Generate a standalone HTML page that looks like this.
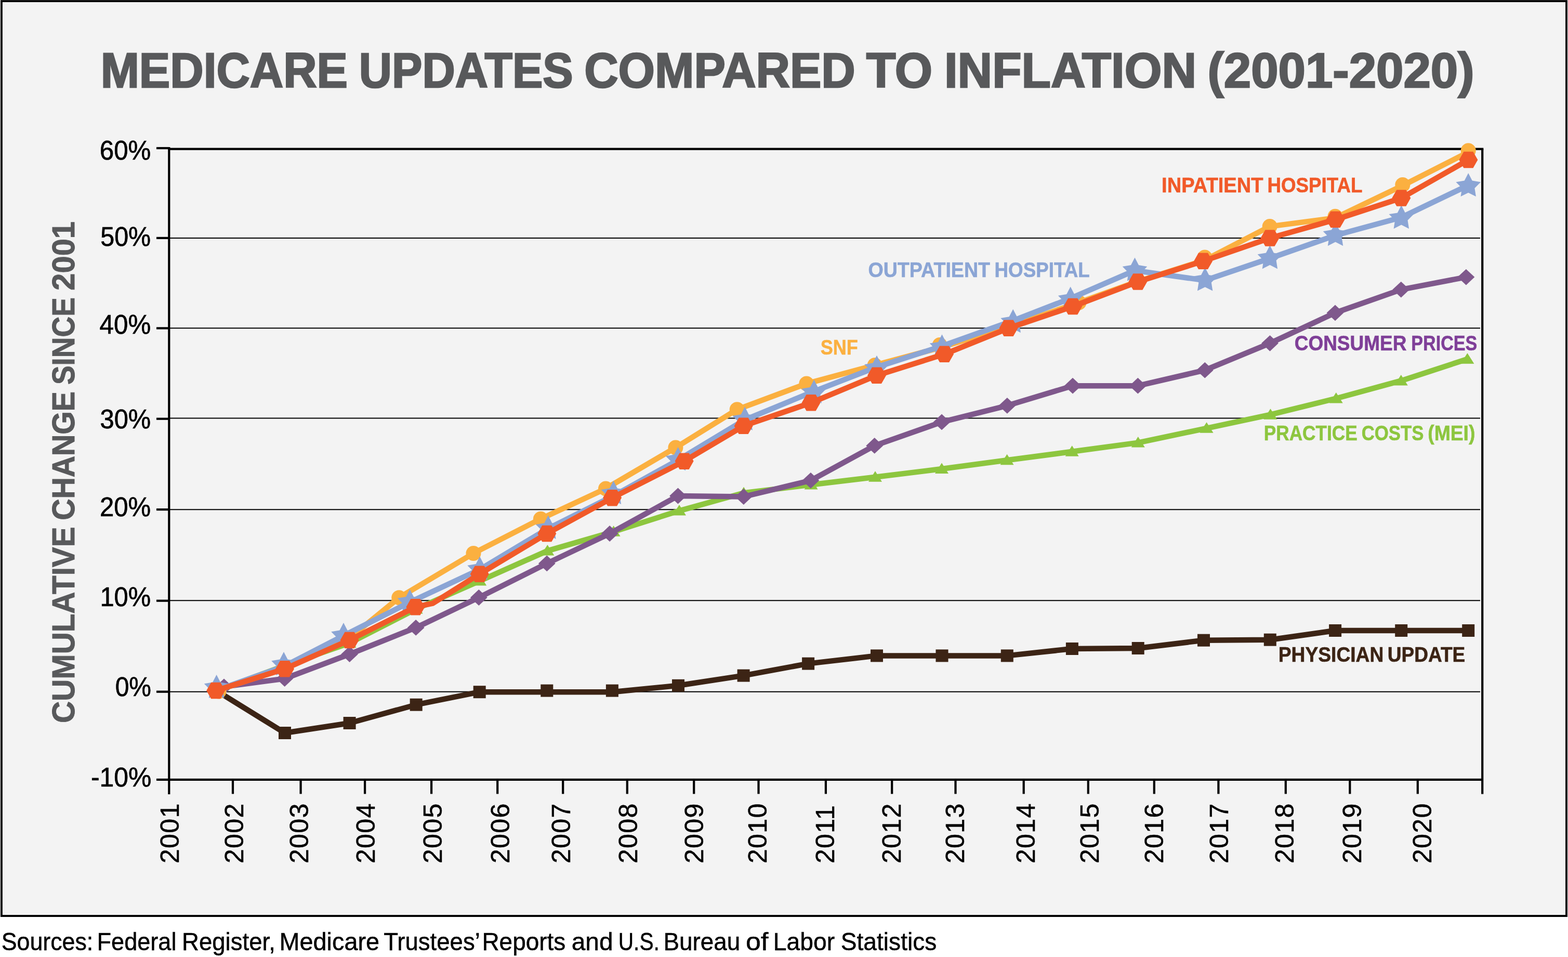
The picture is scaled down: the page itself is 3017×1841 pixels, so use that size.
<!DOCTYPE html>
<html lang="en"><head><meta charset="utf-8">
<title>Medicare Updates Compared to Inflation (2001-2020)</title>
<style>
html,body{margin:0;padding:0;background:#fff}
body{width:3017px;height:1841px;overflow:hidden}
svg{display:block}
text{font-family:"Liberation Sans",Arial,Helvetica,sans-serif}
</style></head><body>
<svg xmlns="http://www.w3.org/2000/svg" width="3017" height="1841" viewBox="0 0 3017 1841">
<rect x="0" y="0" width="3017" height="1841" fill="#fff"/>
<rect x="2.9" y="2.15" width="3011.1" height="1759.85" fill="#f3f3f3" stroke="#000" stroke-width="3.9"/>
<text y="167.5" font-size="94.2" fill="#58595b" font-weight="bold" stroke="#58595b" stroke-width="2.6" stroke-linejoin="miter"><tspan x="193.63" textLength="475.38" lengthAdjust="spacingAndGlyphs">MEDICARE</tspan> <tspan x="690.85" textLength="411.85" lengthAdjust="spacingAndGlyphs">UPDATES</tspan> <tspan x="1124.17" textLength="521.62" lengthAdjust="spacingAndGlyphs">COMPARED</tspan> <tspan x="1666.65" textLength="127.40" lengthAdjust="spacingAndGlyphs">TO</tspan> <tspan x="1816.92" textLength="485.19" lengthAdjust="spacingAndGlyphs">INFLATION</tspan> <tspan x="2323.49" textLength="513.14" lengthAdjust="spacingAndGlyphs">(2001-2020)</tspan></text>
<text y="-0.5" font-size="61.6" fill="#58595b" font-weight="bold" stroke="#58595b" stroke-width="1.0" stroke-linejoin="miter" transform="translate(143.6 1389) rotate(-90)"><tspan x="-1.90" textLength="377.39" lengthAdjust="spacingAndGlyphs">CUMULATIVE</tspan> <tspan x="388.15" textLength="247.81" lengthAdjust="spacingAndGlyphs">CHANGE</tspan> <tspan x="648.97" textLength="167.90" lengthAdjust="spacingAndGlyphs">SINCE</tspan> <tspan x="830.33" textLength="132.61" lengthAdjust="spacingAndGlyphs">2001</tspan></text>
<g stroke="#000" stroke-width="2" fill="none">
<line x1="325.3" y1="457.9" x2="2848" y2="457.9"/>
<line x1="325.3" y1="631.3" x2="2848" y2="631.3"/>
<line x1="325.3" y1="804.6" x2="2848" y2="804.6"/>
<line x1="325.3" y1="980.2" x2="2848" y2="980.2"/>
<line x1="325.3" y1="1155.3" x2="2848" y2="1155.3"/>
<line x1="325.3" y1="1330.7" x2="2848" y2="1330.7"/>
</g>
<g stroke="#000" stroke-width="4.2" fill="none">
<path d="M301 285H325.3"/>
<path d="M325.3 282.9V1528"/>
<path d="M325.3 286.6H2854.2999999999997"/>
<path d="M2852.2 286.6V1527.5"/>
<path d="M301 1499.9H2852.2"/>
<path d="M301 457.9H325.3"/>
<path d="M301 631.4H325.3"/>
<path d="M301 805.7H325.3"/>
<path d="M301 980.2H325.3"/>
<path d="M301 1155.7H325.3"/>
<path d="M301 1330.7H325.3"/>
<path d="M448 1499.9V1527.3"/>
<path d="M578.6 1499.9V1527.3"/>
<path d="M702.1 1499.9V1527.3"/>
<path d="M830.1 1499.9V1527.3"/>
<path d="M957.2 1499.9V1527.3"/>
<path d="M1083.2 1499.9V1527.3"/>
<path d="M1206.8 1499.9V1527.3"/>
<path d="M1335.2 1499.9V1527.3"/>
<path d="M1459.5 1499.9V1527.3"/>
<path d="M1588.9 1499.9V1527.3"/>
<path d="M1716.2 1499.9V1527.3"/>
<path d="M1838.5 1499.9V1527.3"/>
<path d="M1969.7 1499.9V1527.3"/>
<path d="M2093.8 1499.9V1527.3"/>
<path d="M2220.8 1499.9V1527.3"/>
<path d="M2344.4 1499.9V1527.3"/>
<path d="M2473.8 1499.9V1527.3"/>
<path d="M2597.3 1499.9V1527.3"/>
<path d="M2727.8 1499.9V1527.3"/>
</g>
<text y="307.2" font-size="51.3" fill="#000" stroke="#000" stroke-width="0.7" stroke-linejoin="miter"><tspan x="191.84" textLength="98.56" lengthAdjust="spacingAndGlyphs">60%</tspan></text>
<text y="473.2" font-size="51.3" fill="#000" stroke="#000" stroke-width="0.7" stroke-linejoin="miter"><tspan x="193.24" textLength="96.94" lengthAdjust="spacingAndGlyphs">50%</tspan></text>
<text y="642.2" font-size="51.3" fill="#000" stroke="#000" stroke-width="0.7" stroke-linejoin="miter"><tspan x="191.62" textLength="98.59" lengthAdjust="spacingAndGlyphs">40%</tspan></text>
<text y="824" font-size="51.3" fill="#000" stroke="#000" stroke-width="0.7" stroke-linejoin="miter"><tspan x="192.54" textLength="97.65" lengthAdjust="spacingAndGlyphs">30%</tspan></text>
<text y="993.2" font-size="51.3" fill="#000" stroke="#000" stroke-width="0.7" stroke-linejoin="miter"><tspan x="191.98" textLength="98.22" lengthAdjust="spacingAndGlyphs">20%</tspan></text>
<text y="1166.2" font-size="51.3" fill="#000" stroke="#000" stroke-width="0.7" stroke-linejoin="miter"><tspan x="192.42" textLength="97.76" lengthAdjust="spacingAndGlyphs">10%</tspan></text>
<text y="1338.9" font-size="51.3" fill="#000" stroke="#000" stroke-width="0.7" stroke-linejoin="miter"><tspan x="221.67" textLength="69.39" lengthAdjust="spacingAndGlyphs">0%</tspan></text>
<text y="1513.1" font-size="51.3" fill="#000" stroke="#000" stroke-width="0.7" stroke-linejoin="miter"><tspan x="174.93" textLength="116.53" lengthAdjust="spacingAndGlyphs">-10%</tspan></text>
<g font-size="50.1" letter-spacing="1.3" fill="#000" stroke="#000" stroke-width="0.5">
<text transform="translate(344.1 1661.1) rotate(-90)">2001</text>
<text transform="translate(467.8 1661.1) rotate(-90)">2002</text>
<text transform="translate(592.9 1661.1) rotate(-90)">2003</text>
<text transform="translate(720.5 1661.1) rotate(-90)">2004</text>
<text transform="translate(850.2 1661.1) rotate(-90)">2005</text>
<text transform="translate(979.8 1661.1) rotate(-90)">2006</text>
<text transform="translate(1096.8 1661.1) rotate(-90)">2007</text>
<text transform="translate(1225.9 1661.1) rotate(-90)">2008</text>
<text transform="translate(1353.3 1661.1) rotate(-90)">2009</text>
<text transform="translate(1474.8 1661.1) rotate(-90)">2010</text>
<text transform="translate(1604.9 1661.1) rotate(-90)">2011</text>
<text transform="translate(1732.5 1661.1) rotate(-90)">2012</text>
<text transform="translate(1854.6 1661.1) rotate(-90)">2013</text>
<text transform="translate(1991 1661.1) rotate(-90)">2014</text>
<text transform="translate(2113.8 1661.1) rotate(-90)">2015</text>
<text transform="translate(2238.4 1661.1) rotate(-90)">2016</text>
<text transform="translate(2362.5 1661.1) rotate(-90)">2017</text>
<text transform="translate(2489.3 1661.1) rotate(-90)">2018</text>
<text transform="translate(2619.3 1661.1) rotate(-90)">2019</text>
<text transform="translate(2753.8 1661.1) rotate(-90)">2020</text>
</g>
<g fill="#3c2415">
<polyline points="417,1329 548,1410 672.6,1391 800.7,1355.7 922.7,1331.2 1052.3,1331.2 1177.9,1331.2 1305,1318.8 1430.6,1299.6 1555.1,1276.6 1687,1261.4 1812.5,1261.4 1937.8,1261.4 2062.9,1248 2189.7,1247 2316,1231.7 2443.8,1230.7 2569.1,1213 2696.2,1213 2825.2,1213" fill="none" stroke="#3c2415" stroke-width="10.5" stroke-linejoin="round"/>
<rect x="405" y="1317" width="24" height="24"/>
<rect x="536" y="1398" width="24" height="24"/>
<rect x="660.6" y="1379" width="24" height="24"/>
<rect x="788.7" y="1343.7" width="24" height="24"/>
<rect x="910.7" y="1319.2" width="24" height="24"/>
<rect x="1040.3" y="1316.6" width="24" height="24"/>
<rect x="1165.9" y="1316.6" width="24" height="24"/>
<rect x="1293" y="1306.8" width="24" height="24"/>
<rect x="1418.6" y="1287.6" width="24" height="24"/>
<rect x="1543.1" y="1264.6" width="24" height="24"/>
<rect x="1675" y="1249.4" width="24" height="24"/>
<rect x="1800.5" y="1249.4" width="24" height="24"/>
<rect x="1925.8" y="1249.4" width="24" height="24"/>
<rect x="2050.9" y="1236" width="24" height="24"/>
<rect x="2177.7" y="1235" width="24" height="24"/>
<rect x="2304" y="1219.7" width="24" height="24"/>
<rect x="2431.8" y="1218.7" width="24" height="24"/>
<rect x="2557.1" y="1201" width="24" height="24"/>
<rect x="2684.2" y="1201" width="24" height="24"/>
<rect x="2813.2" y="1201" width="24" height="24"/>
</g>
<g fill="#8dc63f">
<polyline points="417,1329 548,1280.5 672.6,1237 800.7,1171.5 923.2,1117.5 1053.4,1059.6 1180.6,1022.7 1307,982.6 1431,948.3 1560.6,932.5 1684,917.7 1812,902 1937.6,885.3 2062.7,868.8 2189.8,851.6 2321.6,823.8 2444.5,797.7 2570.8,766.5 2695.8,732.4 2823.4,690.7" fill="none" stroke="#8dc63f" stroke-width="10.5" stroke-linejoin="round"/>
<path d="M417 1317.5L430 1338H404Z"/>
<path d="M548 1269L561 1289.5H535Z"/>
<path d="M672.6 1225.5L685.6 1246H659.6Z"/>
<path d="M800.7 1160L813.7 1180.5H787.7Z"/>
<path d="M923.2 1106L936.2 1126.5H910.2Z"/>
<path d="M1053.4 1048.1L1066.4 1068.6H1040.4Z"/>
<path d="M1180.6 1011.2L1193.6 1031.7H1167.6Z"/>
<path d="M1307 971.1L1320 991.6H1294Z"/>
<path d="M1431 936.8L1444 957.3H1418Z"/>
<path d="M1560.6 921L1573.6 941.5H1547.6Z"/>
<path d="M1684 906.2L1697 926.7H1671Z"/>
<path d="M1812 890.5L1825 911H1799Z"/>
<path d="M1937.6 873.8L1950.6 894.3H1924.6Z"/>
<path d="M2062.7 857.3L2075.7 877.8H2049.7Z"/>
<path d="M2189.8 840.1L2202.8 860.6H2176.8Z"/>
<path d="M2321.6 812.3L2334.6 832.8H2308.6Z"/>
<path d="M2444.5 786.2L2457.5 806.7H2431.5Z"/>
<path d="M2570.8 755L2583.8 775.5H2557.8Z"/>
<path d="M2695.8 720.9L2708.8 741.4H2682.8Z"/>
<path d="M2823.4 679.2L2836.4 699.7H2810.4Z"/>
</g>
<g fill="#7f588c">
<polyline points="431,1321 547.7,1305.5 672.6,1258.5 800.2,1207.4 921.3,1149.5 1052.3,1083.9 1173.1,1026.5 1304.5,954 1430.8,955.5 1559.9,924.3 1682.7,857.4 1812,811.9 1937.9,780.3 2064,742.2 2189.4,742.2 2318.3,712.2 2443.5,660.3 2569,601.8 2695.8,557.1 2820.9,533.1" fill="none" stroke="#7f588c" stroke-width="10.5" stroke-linejoin="round"/>
<path d="M431 1305.6L447.4 1321L431 1336.4L414.6 1321Z"/>
<path d="M547.7 1290.1L564.1 1305.5L547.7 1320.9L531.3 1305.5Z"/>
<path d="M672.6 1243.1L689 1258.5L672.6 1273.9L656.2 1258.5Z"/>
<path d="M800.2 1192L816.6 1207.4L800.2 1222.8L783.8 1207.4Z"/>
<path d="M921.3 1134.1L937.7 1149.5L921.3 1164.9L904.9 1149.5Z"/>
<path d="M1052.3 1068.5L1068.7 1083.9L1052.3 1099.3L1035.9 1083.9Z"/>
<path d="M1173.1 1011.1L1189.5 1026.5L1173.1 1041.9L1156.7 1026.5Z"/>
<path d="M1304.5 938.6L1320.9 954L1304.5 969.4L1288.1 954Z"/>
<path d="M1430.8 940.1L1447.2 955.5L1430.8 970.9L1414.4 955.5Z"/>
<path d="M1559.9 908.9L1576.3 924.3L1559.9 939.7L1543.5 924.3Z"/>
<path d="M1682.7 842L1699.1 857.4L1682.7 872.8L1666.3 857.4Z"/>
<path d="M1812 796.5L1828.4 811.9L1812 827.3L1795.6 811.9Z"/>
<path d="M1937.9 764.9L1954.3 780.3L1937.9 795.7L1921.5 780.3Z"/>
<path d="M2064 726.8L2080.4 742.2L2064 757.6L2047.6 742.2Z"/>
<path d="M2189.4 726.8L2205.8 742.2L2189.4 757.6L2173 742.2Z"/>
<path d="M2318.3 696.8L2334.7 712.2L2318.3 727.6L2301.9 712.2Z"/>
<path d="M2443.5 644.9L2459.9 660.3L2443.5 675.7L2427.1 660.3Z"/>
<path d="M2569 586.4L2585.4 601.8L2569 617.2L2552.6 601.8Z"/>
<path d="M2695.8 541.7L2712.2 557.1L2695.8 572.5L2679.4 557.1Z"/>
<path d="M2820.9 517.7L2837.3 533.1L2820.9 548.5L2804.5 533.1Z"/>
</g>
<g fill="#fbb040">
<polyline points="416.3,1328.6 548,1286 672,1228 767.8,1149.8 911,1064.4 1040.4,998.2 1165.5,939.9 1299.9,861.1 1418.2,787.8 1551.8,738.1 1683.2,702.5 1810,668.5 1945,627 2076,582 2189,541.5 2318.1,500.5 2443.2,435.6 2569,419.3 2698.8,357 2825.2,292.8" fill="none" stroke="#fbb040" stroke-width="10.5" stroke-linejoin="round"/>
<circle cx="421" cy="1330" r="14.5"/>
<circle cx="548" cy="1286" r="14.5"/>
<circle cx="672" cy="1228" r="14.5"/>
<circle cx="767.8" cy="1149.8" r="14.5"/>
<circle cx="911" cy="1064.4" r="14.5"/>
<circle cx="1040.4" cy="998.2" r="14.5"/>
<circle cx="1165.5" cy="939.9" r="14.5"/>
<circle cx="1299.9" cy="861.1" r="14.5"/>
<circle cx="1418.2" cy="787.8" r="14.5"/>
<circle cx="1551.8" cy="738.1" r="14.5"/>
<circle cx="1683.2" cy="702.5" r="14.5"/>
<circle cx="1808.2" cy="663.6" r="14.5"/>
<circle cx="1945" cy="625" r="14.5"/>
<circle cx="2076" cy="582" r="14.5"/>
<circle cx="2189" cy="540" r="14.5"/>
<circle cx="2318.1" cy="495" r="14.5"/>
<circle cx="2443.2" cy="435.6" r="14.5"/>
<circle cx="2569" cy="416.3" r="14.5"/>
<circle cx="2698.8" cy="355.5" r="14.5"/>
<circle cx="2825.2" cy="289.8" r="14.5"/>
</g>
<g fill="#8ba5d5">
<polyline points="416.6,1328 546.4,1282 661,1223 788.5,1158.5 923.1,1095.5 1054.8,1016.6 1180.1,954 1304.6,885 1433.2,807.6 1566.2,752.8 1687,706.2 1812.5,665.8 1949.2,617 2059.7,574 2183.5,520.4 2318.6,539.4 2443.4,497 2569.5,452.7 2696.3,418.3 2825.2,356.4" fill="none" stroke="#8ba5d5" stroke-width="10.5" stroke-linejoin="round"/>
<path d="M416.6 1297.9L424.1 1312.5L440.4 1315.2L428.8 1326.9L431.3 1343.1L416.6 1335.7L401.9 1343.1L404.4 1326.9L392.8 1315.2L409.1 1312.5Z"/>
<path d="M546 1254L553.5 1268.6L569.8 1271.3L558.2 1283L560.7 1299.2L546 1291.8L531.3 1299.2L533.8 1283L522.2 1271.3L538.5 1268.6Z"/>
<path d="M661 1198L668.5 1212.6L684.8 1215.3L673.2 1227L675.7 1243.2L661 1235.8L646.3 1243.2L648.8 1227L637.2 1215.3L653.5 1212.6Z"/>
<path d="M788.5 1133.5L796 1148.1L812.3 1150.8L800.7 1162.5L803.2 1178.7L788.5 1171.3L773.8 1178.7L776.3 1162.5L764.7 1150.8L781 1148.1Z"/>
<path d="M923.1 1070.5L930.6 1085.1L946.9 1087.8L935.3 1099.5L937.8 1115.7L923.1 1108.3L908.4 1115.7L910.9 1099.5L899.3 1087.8L915.6 1085.1Z"/>
<path d="M1054.8 991.6L1062.3 1006.2L1078.6 1008.9L1067 1020.6L1069.5 1036.8L1054.8 1029.4L1040.1 1036.8L1042.6 1020.6L1031 1008.9L1047.3 1006.2Z"/>
<path d="M1180.4 924.8L1187.9 939.4L1204.2 942.1L1192.6 953.8L1195.1 970L1180.4 962.6L1165.7 970L1168.2 953.8L1156.6 942.1L1172.9 939.4Z"/>
<path d="M1304.6 860L1312.1 874.6L1328.4 877.3L1316.8 889L1319.3 905.2L1304.6 897.8L1289.9 905.2L1292.4 889L1280.8 877.3L1297.1 874.6Z"/>
<path d="M1433.2 782.6L1440.7 797.2L1457 799.9L1445.4 811.6L1447.9 827.8L1433.2 820.4L1418.5 827.8L1421 811.6L1409.4 799.9L1425.7 797.2Z"/>
<path d="M1566.2 730.5L1573.7 745.1L1590 747.8L1578.4 759.5L1580.9 775.7L1566.2 768.3L1551.5 775.7L1554 759.5L1542.4 747.8L1558.7 745.1Z"/>
<path d="M1687 683.7L1694.5 698.3L1710.8 701L1699.2 712.7L1701.7 728.9L1687 721.5L1672.3 728.9L1674.8 712.7L1663.2 701L1679.5 698.3Z"/>
<path d="M1812.5 643.3L1820 657.9L1836.3 660.6L1824.7 672.3L1827.2 688.5L1812.5 681.1L1797.8 688.5L1800.3 672.3L1788.7 660.6L1805 657.9Z"/>
<path d="M1949.2 594.7L1956.7 609.3L1973 612L1961.4 623.7L1963.9 639.9L1949.2 632.5L1934.5 639.9L1937 623.7L1925.4 612L1941.7 609.3Z"/>
<path d="M2059.7 551.5L2067.2 566.1L2083.5 568.8L2071.9 580.5L2074.4 596.7L2059.7 589.3L2045 596.7L2047.5 580.5L2035.9 568.8L2052.2 566.1Z"/>
<path d="M2183.5 495.4L2191 510L2207.3 512.7L2195.7 524.4L2198.2 540.6L2183.5 533.2L2168.8 540.6L2171.3 524.4L2159.7 512.7L2176 510Z"/>
<path d="M2318.6 514.4L2326.1 529L2342.4 531.7L2330.8 543.4L2333.3 559.6L2318.6 552.2L2303.9 559.6L2306.4 543.4L2294.8 531.7L2311.1 529Z"/>
<path d="M2443.4 472L2450.9 486.6L2467.2 489.3L2455.6 501L2458.1 517.2L2443.4 509.8L2428.7 517.2L2431.2 501L2419.6 489.3L2435.9 486.6Z"/>
<path d="M2569.5 427.7L2577 442.3L2593.3 445L2581.7 456.7L2584.2 472.9L2569.5 465.5L2554.8 472.9L2557.3 456.7L2545.7 445L2562 442.3Z"/>
<path d="M2696.3 394.8L2703.8 409.4L2720.1 412.1L2708.5 423.8L2711 440L2696.3 432.6L2681.6 440L2684.1 423.8L2672.5 412.1L2688.8 409.4Z"/>
<path d="M2825.2 332.9L2832.7 347.5L2849 350.2L2837.4 361.9L2839.9 378.1L2825.2 370.7L2810.5 378.1L2813 361.9L2801.4 350.2L2817.7 347.5Z"/>
</g>
<g fill="#f15a29">
<polyline points="415.2,1328.6 548,1286.7 672.6,1231.4 799.4,1167.7 832.8,1160.6 922.8,1104.2 1052.3,1026.5 1178.1,957.6 1316.6,887.1 1430.6,819.4 1560.6,774.8 1687,722.2 1817.1,681.3 1940.6,631.3 2064.2,589.5 2189.3,542 2315,502.4 2443.5,458 2569.5,422.4 2696.3,381 2825.4,307.5" fill="none" stroke="#f15a29" stroke-width="10.5" stroke-linejoin="round"/>
<path d="M397.2 1328.6L406.2 1312.8L424.2 1312.8L433.2 1328.6L424.2 1344.3L406.2 1344.3Z"/>
<path d="M530 1286.7L539 1271L557 1271L566 1286.7L557 1302.5L539 1302.5Z"/>
<path d="M654.6 1231.4L663.6 1215.7L681.6 1215.7L690.6 1231.4L681.6 1247.2L663.6 1247.2Z"/>
<path d="M781.4 1167.7L790.4 1152L808.4 1152L817.4 1167.7L808.4 1183.5L790.4 1183.5Z"/>
<path d="M904.8 1104.2L913.8 1088.5L931.8 1088.5L940.8 1104.2L931.8 1120L913.8 1120Z"/>
<path d="M1034.3 1026.5L1043.3 1010.8L1061.3 1010.8L1070.3 1026.5L1061.3 1042.2L1043.3 1042.2Z"/>
<path d="M1160.1 957.6L1169.1 941.9L1187.1 941.9L1196.1 957.6L1187.1 973.4L1169.1 973.4Z"/>
<path d="M1298.6 887.1L1307.6 871.4L1325.6 871.4L1334.6 887.1L1325.6 902.9L1307.6 902.9Z"/>
<path d="M1412.6 819.4L1421.6 803.6L1439.6 803.6L1448.6 819.4L1439.6 835.1L1421.6 835.1Z"/>
<path d="M1542.6 774.8L1551.6 759L1569.6 759L1578.6 774.8L1569.6 790.5L1551.6 790.5Z"/>
<path d="M1669 722.2L1678 706.5L1696 706.5L1705 722.2L1696 738L1678 738Z"/>
<path d="M1799.1 681.3L1808.1 665.5L1826.1 665.5L1835.1 681.3L1826.1 697L1808.1 697Z"/>
<path d="M1922.6 631.3L1931.6 615.5L1949.6 615.5L1958.6 631.3L1949.6 647L1931.6 647Z"/>
<path d="M2046.2 589.5L2055.2 573.8L2073.2 573.8L2082.2 589.5L2073.2 605.2L2055.2 605.2Z"/>
<path d="M2171.3 542L2180.3 526.2L2198.3 526.2L2207.3 542L2198.3 557.8L2180.3 557.8Z"/>
<path d="M2297 502.4L2306 486.6L2324 486.6L2333 502.4L2324 518.1L2306 518.1Z"/>
<path d="M2425.5 458L2434.5 442.2L2452.5 442.2L2461.5 458L2452.5 473.8L2434.5 473.8Z"/>
<path d="M2551.5 422.4L2560.5 406.6L2578.5 406.6L2587.5 422.4L2578.5 438.1L2560.5 438.1Z"/>
<path d="M2678.3 381L2687.3 365.2L2705.3 365.2L2714.3 381L2705.3 396.8L2687.3 396.8Z"/>
<path d="M2807.4 307.5L2816.4 291.8L2834.4 291.8L2843.4 307.5L2834.4 323.2L2816.4 323.2Z"/>
</g>
<text y="369.7" font-size="40.5" fill="#f15a29" font-weight="bold" stroke="#f15a29" stroke-width="0.6" stroke-linejoin="miter"><tspan x="2235.05" textLength="195.56" lengthAdjust="spacingAndGlyphs">INPATIENT</tspan> <tspan x="2438.44" textLength="182.91" lengthAdjust="spacingAndGlyphs">HOSPITAL</tspan></text>
<text y="532.7" font-size="40.5" fill="#8ba5d5" font-weight="bold" stroke="#8ba5d5" stroke-width="0.6" stroke-linejoin="miter"><tspan x="1670.45" textLength="234.63" lengthAdjust="spacingAndGlyphs">OUTPATIENT</tspan> <tspan x="1913.54" textLength="183.12" lengthAdjust="spacingAndGlyphs">HOSPITAL</tspan></text>
<text y="682.1" font-size="40.5" fill="#fbb040" font-weight="bold" stroke="#fbb040" stroke-width="0.6" stroke-linejoin="miter"><tspan x="1578.83" textLength="72.00" lengthAdjust="spacingAndGlyphs">SNF</tspan></text>
<text y="674.4" font-size="40.5" fill="#7f3f98" font-weight="bold" stroke="#7f3f98" stroke-width="0.6" stroke-linejoin="miter"><tspan x="2490.68" textLength="215.75" lengthAdjust="spacingAndGlyphs">CONSUMER</tspan> <tspan x="2715.32" textLength="127.02" lengthAdjust="spacingAndGlyphs">PRICES</tspan></text>
<text y="847" font-size="40.5" fill="#8dc63f" font-weight="bold" stroke="#8dc63f" stroke-width="0.6" stroke-linejoin="miter"><tspan x="2431.74" textLength="180.05" lengthAdjust="spacingAndGlyphs">PRACTICE</tspan> <tspan x="2619.67" textLength="119.70" lengthAdjust="spacingAndGlyphs">COSTS</tspan> <tspan x="2747.34" textLength="91.01" lengthAdjust="spacingAndGlyphs">(MEI)</tspan></text>
<text y="1273" font-size="40.5" fill="#3c2415" font-weight="bold" stroke="#3c2415" stroke-width="0.6" stroke-linejoin="miter"><tspan x="2459.71" textLength="202.68" lengthAdjust="spacingAndGlyphs">PHYSICIAN</tspan> <tspan x="2669.68" textLength="149.58" lengthAdjust="spacingAndGlyphs">UPDATE</tspan></text>
<text y="1827.8" font-size="47.8" fill="#000" stroke="#000" stroke-width="0.5" stroke-linejoin="miter"><tspan x="2.68" textLength="176.54" lengthAdjust="spacingAndGlyphs">Sources:</tspan> <tspan x="186.55" textLength="152.91" lengthAdjust="spacingAndGlyphs">Federal</tspan> <tspan x="350.01" textLength="179.82" lengthAdjust="spacingAndGlyphs">Register,</tspan> <tspan x="537.40" textLength="192.75" lengthAdjust="spacingAndGlyphs">Medicare</tspan> <tspan x="738.13" textLength="184.05" lengthAdjust="spacingAndGlyphs">Trustees’</tspan> <tspan x="927.38" textLength="160.95" lengthAdjust="spacingAndGlyphs">Reports</tspan> <tspan x="1099.71" textLength="79.95" lengthAdjust="spacingAndGlyphs">and</tspan> <tspan x="1189.71" textLength="79.14" lengthAdjust="spacingAndGlyphs">U.S.</tspan> <tspan x="1276.49" textLength="147.71" lengthAdjust="spacingAndGlyphs">Bureau</tspan> <tspan x="1435.06" textLength="43.41" lengthAdjust="spacingAndGlyphs">of</tspan> <tspan x="1487.85" textLength="118.25" lengthAdjust="spacingAndGlyphs">Labor</tspan> <tspan x="1617.81" textLength="184.50" lengthAdjust="spacingAndGlyphs">Statistics</tspan></text>
</svg>
</body></html>
